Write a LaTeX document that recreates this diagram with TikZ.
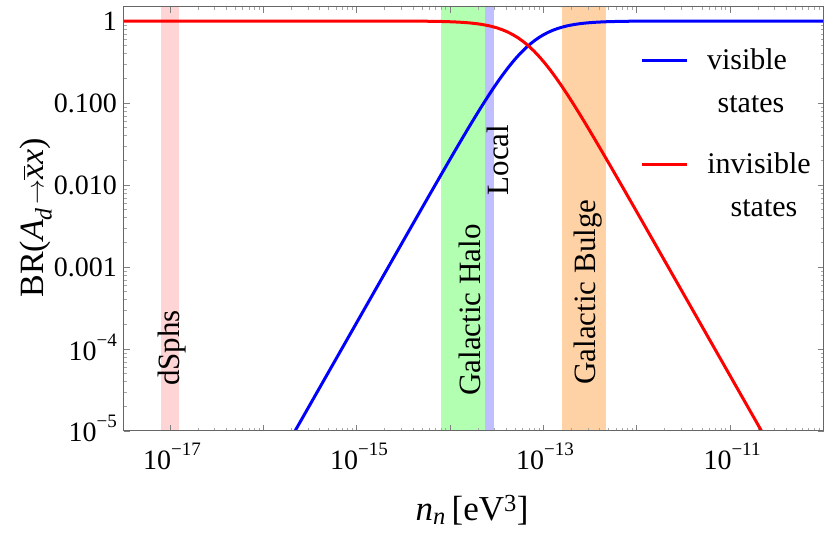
\documentclass[tikz,border=0pt]{standalone}
\usepackage{fontspec}
\setmainfont{Liberation Serif}
\newcommand{\ep}[1]{10\raisebox{0.5em}{\fontsize{19}{19}\selectfont −#1}}
\begin{document}
\begin{tikzpicture}[x=1pt,y=-1pt,
  tl/.style={font=\fontsize{28}{28}\selectfont,inner sep=1pt},
  bl/.style={font=\fontsize{31}{31}\selectfont,rotate=90},
  lg/.style={font=\fontsize{30}{30}\selectfont},
  curve/.style={line width=3pt},
  declare function={
    X(\u)=93.3*\u+1756.1; Y(\l)=21-82*\l;
    F(\t)=max(\t,0)+log10(1+10^(-abs(\t)));
  }]
\useasboundingbox (0,0) rectangle (830,533);
% bands
\fill[red!17] ({X(-17.1)},6.5) rectangle ({X(-16.9)},430.5);
\fill[green!30] ({X(-14.1)},6.5) rectangle ({X(-13.62)},430.5);
\fill[blue!25] ({X(-13.62)},6.5) rectangle ({X(-13.53)},430.5);
\fill[orange!35] ({X(-12.8)},6.5) rectangle ({X(-12.33)},430.5);
% ticks
\foreach \d in {-17,...,-11}{
  \draw[gray] ({X(\d)},430.5) -- ++(0,-6) ({X(\d)},6.5) -- ++(0,6);
  \foreach \m in {2,...,9}{
    \pgfmathsetmacro\mx{X(\d+log10(\m))}
    \ifdim\mx pt<823pt \draw[gray!70] (\mx,430.5) -- ++(0,-3) (\mx,6.5) -- ++(0,3);\fi}
}
\foreach \d in {0,-1,-2,-3,-4,-5}{
  \draw[gray] (123.5,{Y(\d)}) -- ++(6,0) (823.5,{Y(\d)}) -- ++(-6,0);
  \ifnum\d>-5
  \foreach \m in {2,...,9}{
    \draw[gray!70] (123.5,{Y(\d-1+log10(\m))}) -- ++(3,0) (823.5,{Y(\d-1+log10(\m))}) -- ++(-3,0);}
  \fi
}
% curves
\begin{scope}
\clip (123.5,6.5) rectangle (823.5,430.5);
\draw[blue,curve] plot[domain=-15.75:-10,samples=120] ({X(\x)},{Y(-F(-2*(\x+13.16)))});
\draw[red,curve] plot[domain=-17.5:-10.6,samples=120] ({X(\x)},{Y(-F(2*(\x+13.16)))});
\end{scope}
\draw[gray!80!black] (123.5,6.5) rectangle (823.5,430.5);
% tick labels
\node[tl,anchor=east] (y0) at (118,21) {1};
\node[tl,anchor=east] (y1) at (118,103) {0.100};
\node[tl,anchor=east] (y2) at (118,185) {0.010};
\node[tl,anchor=east] (y3) at (118,267) {0.001};
\node[tl,anchor=east] (y4) at (118,347) {\ep{4}};
\node[tl,anchor=east] (y5) at (118,428) {\ep{5}};
\node[tl] (x17) at (172,456) {\ep{17}};
\node[tl] (x15) at (359,456) {\ep{15}};
\node[tl] (x13) at (545,456) {\ep{13}};
\node[tl] (x11) at (732,456) {\ep{11}};
% band labels
\node[bl] (ds) at (172,348) {dSphs};
\node[bl] (gh) at (470,310) {Galactic Halo};
\node[bl] (lo) at (498,160) {Local};
\node[bl] (gb) at (588,292) {Galactic Bulge};
% legend
\coordinate (lb1) at (642,60); \coordinate (lb2) at (687,60);
\draw[blue,curve] (lb1) -- (lb2);
\node[lg] (v1) at (747,59) {visible};
\node[lg] (v2) at (751,104) {states};
\coordinate (lr1) at (642,164); \coordinate (lr2) at (687,164);
\draw[red,curve] (lr1) -- (lr2);
\node[lg] (i1) at (759,163) {invisible};
\node[lg] (i2) at (764,208) {states};
% axis labels
\node[font=\fontsize{34}{34}\selectfont,rotate=90] (yl) at (36,218) {BR(\textit{A}\textsubscript{\textit{d}}\hspace{0.08em}$\rightarrow$\textit{x}\llap{\raisebox{0.55em}{\rule{0.42em}{0.7pt}}\hspace{0.02em}}\textit{x})};
\node[font=\fontsize{35}{35}\selectfont] (xl) at (472,510) {\textit{n}\textsubscript{\textit{n}}\,[eV\textsuperscript{3}]};
\end{tikzpicture}
\end{document}
